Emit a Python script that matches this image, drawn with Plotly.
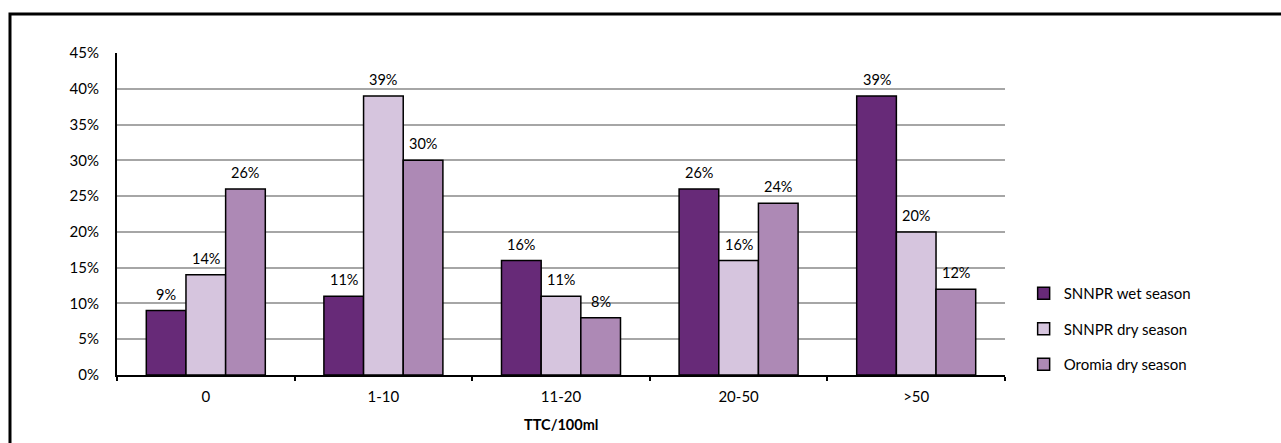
import plotly.graph_objects as go

categories = ["0", "1-10", "11-20", "20-50", ">50"]
wet_snnpr = [9, 11, 16, 26, 39]
dry_snnpr = [14, 39, 11, 16, 20]
dry_oromia = [26, 30, 8, 24, 12]

series_names = ["SNNPR wet season", "SNNPR dry season", "Oromia dry season"]
series_values = [wet_snnpr, dry_snnpr, dry_oromia]
series_colors = ["#672A78", "#D6C5DE", "#AD89B5"]

y_ticks = [0, 5, 10, 15, 20, 25, 30, 35, 40, 45]
y_tick_text = [f"{v}%" for v in y_ticks]

FONT = "Lato"
BAR_GAP = 0.33

fig = go.Figure()
for i, (name, vals, col) in enumerate(zip(series_names, series_values, series_colors)):
    fig.add_trace(go.Bar(
        x=categories, y=vals, name=name,
        marker=dict(color=col, line=dict(color="black", width=1.5)),
        legendgroup=f"g{i}",
    ))

# value labels above each bar, placed from the same data
n = len(series_values)
bar_w = (1 - BAR_GAP) / n
annotations = []
for i, vals in enumerate(series_values):
    off = (i - (n - 1) / 2) * bar_w
    for j, v in enumerate(vals):
        annotations.append(dict(
            x=j + off, y=v, xref="x", yref="y", text=f"{v}%",
            showarrow=False, yanchor="bottom", yshift=6,
            font=dict(family=FONT, size=14.5, color="black"),
        ))

annotations.append(dict(
    x=0.5, y=-0.155, xref="paper", yref="paper", text="<b>TTC/100ml</b>",
    showarrow=False, yanchor="middle",
    font=dict(family=FONT, size=14.5, color="black"),
))

fig.update_layout(
    width=1281, height=443,
    margin=dict(l=117, r=276, t=53, b=68),
    paper_bgcolor="white", plot_bgcolor="white",
    barmode="group", bargap=BAR_GAP, bargroupgap=0,
    font=dict(family=FONT, size=15, color="black"),
    showlegend=True,
    legend=dict(
        x=1.021, y=0.143, xanchor="left", yanchor="middle",
        font=dict(family=FONT, size=15, color="black"),
        tracegroupgap=13, traceorder="grouped",
        itemwidth=30,
    ),
    annotations=annotations,
    shapes=[dict(
        type="rect", xref="paper", yref="paper",
        x0=-0.1205, x1=1.5, y0=-0.5, y1=1.121,
        line=dict(color="black", width=3), layer="below",
    )],
)

fig.update_xaxes(
    type="category", showline=True, linecolor="black", linewidth=2,
    ticks="outside", tickson="boundaries", ticklen=4, tickcolor="black", tickwidth=2,
    showgrid=False, ticklabelstandoff=7,
    tickfont=dict(family=FONT, size=15),
)
fig.update_yaxes(
    range=[0, 45], tickvals=y_ticks, ticktext=y_tick_text,
    showline=True, linecolor="black", linewidth=2,
    showgrid=True, gridcolor="#A6A6A6", gridwidth=1.5,
    zeroline=False, ticks="", ticklabelstandoff=13,
    tickfont=dict(family=FONT, size=15),
)

fig.write_html("out.html")
